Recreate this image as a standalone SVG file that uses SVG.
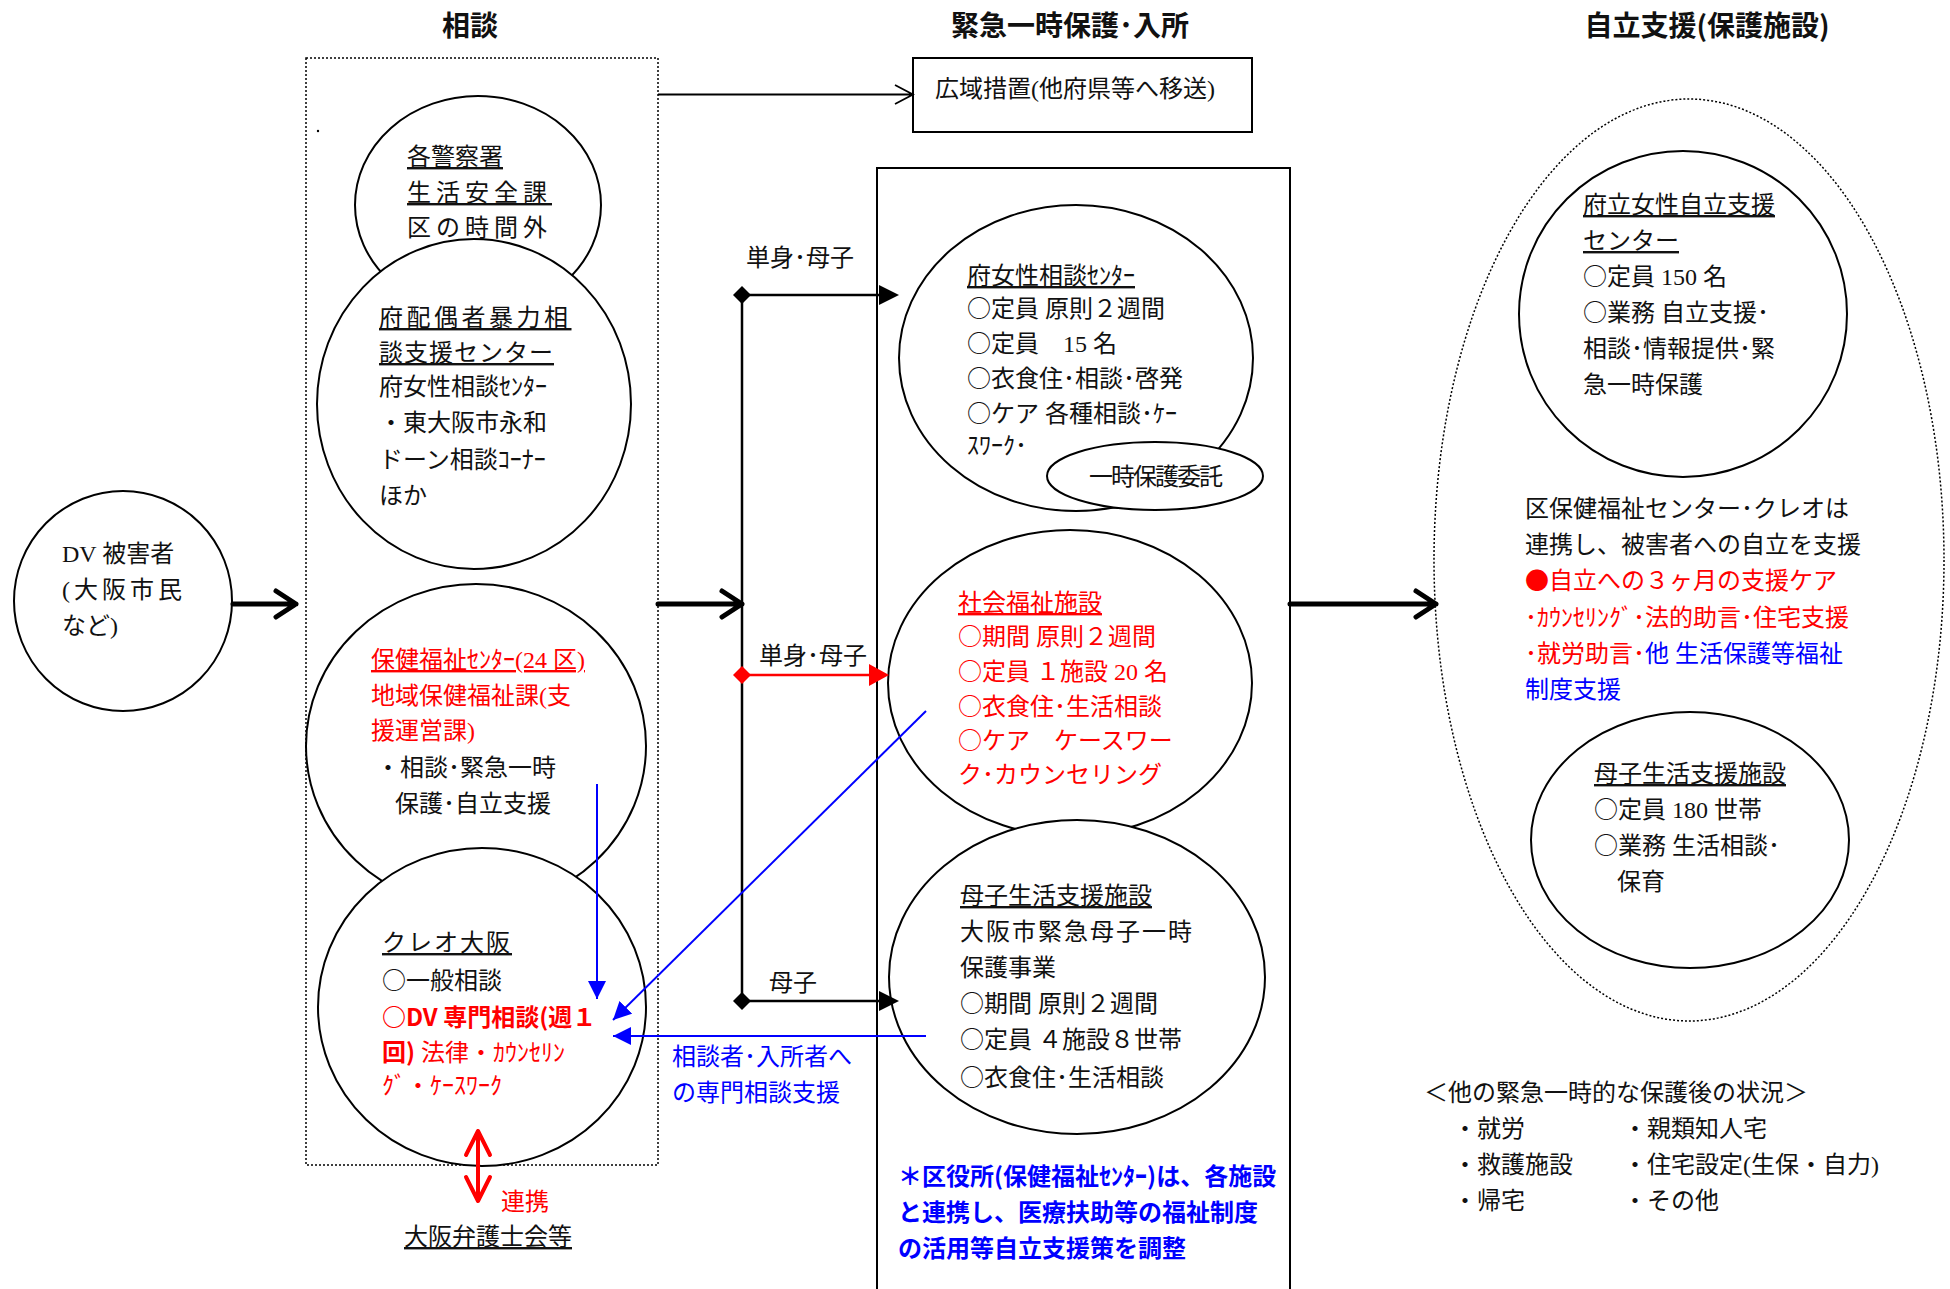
<svg xmlns="http://www.w3.org/2000/svg" width="1950" height="1289" viewBox="0 0 1950 1289">
<defs>
<style>
text{font-family:"Liberation Serif","Noto Sans CJK JP",serif;font-size:24px;fill:#111}
.t{font-family:"Noto Sans CJK JP",sans-serif;font-size:28px;font-weight:bold;text-anchor:middle}
.c{font-family:"Noto Sans CJK JP",sans-serif}
.g{font-family:"Noto Sans CJK JP",sans-serif}
.u{text-decoration:underline}
.r{fill:#ff0000}
.b{fill:#0000ff}
.bd{font-weight:bold}
.node{fill:#fff;stroke:#000;stroke-width:2}
.thick{stroke:#000;stroke-width:5;fill:none;stroke-linecap:round;stroke-linejoin:round}
.blue{stroke:#0000ff;stroke-width:2;fill:none}
</style>
<marker id="bh" viewBox="0 0 10 10" refX="10" refY="5" markerWidth="18" markerHeight="18" markerUnits="userSpaceOnUse" orient="auto"><path d="M0,0 L10,5 L0,10 Z" fill="#0000ff"/></marker>
</defs>
<rect width="1950" height="1289" fill="#fff"/>

<g id="titles">
<text class="t" x="470" y="36">相談</text>
<text class="t" x="1070" y="36">緊急一時保護･入所</text>
<text class="t" x="1707" y="36">自立支援(保護施設)</text>
</g>

<g id="consult-area">
<rect x="306" y="58" width="352" height="1107" fill="none" stroke="#000" stroke-width="1.5" stroke-dasharray="2,2"/>
<circle cx="318" cy="131" r="1.2" fill="#000"/>
</g>

<g id="dv-victim">
<ellipse class="node" cx="123" cy="601" rx="109" ry="110"/>
<text x="62" y="562">DV 被害者</text>
<text x="62" y="598" letter-spacing="4">(大阪市民</text>
<text x="62" y="634">など)</text>
</g>

<g id="police">
<ellipse class="node" cx="478" cy="205" rx="123" ry="109"/>
<text class="u" x="407" y="165">各警察署</text>
<text class="u" x="407" y="201" letter-spacing="5">生活安全課</text>
<text x="407" y="236" letter-spacing="5">区の時間外</text>
</g>

<g id="pref-dv-center">
<ellipse class="node" cx="474" cy="404" rx="157" ry="165"/>
<text class="u" x="379" y="326" letter-spacing="3.5">府配偶者暴力相</text>
<text class="u" x="379" y="361" letter-spacing="1">談支援センター</text>
<text x="379" y="395">府女性相談ｾﾝﾀｰ</text>
<text x="379" y="431">・東大阪市永和</text>
<text x="379" y="468">ドーン相談ｺｰﾅｰ</text>
<text x="379" y="504">ほか</text>
</g>

<g id="health-welfare">
<ellipse class="node" cx="476" cy="746" rx="170" ry="162"/>
<text class="u r" x="371" y="668">保健福祉ｾﾝﾀｰ(24 区)</text>
<text class="r" x="371" y="704">地域保健福祉課(支</text>
<text class="r" x="371" y="739">援運営課)</text>
<text x="376" y="776">・相談･緊急一時</text>
<text x="395" y="812">保護･自立支援</text>
</g>

<g id="creo-osaka">
<ellipse class="node" cx="482" cy="1007" rx="164" ry="159"/>
<text class="u" x="382" y="951" letter-spacing="2">クレオ大阪</text>
<text x="382" y="989"><tspan class="c">○</tspan>一般相談</text>
<text class="r bd g" x="382" y="1026">○DV 専門相談(週１</text>
<text class="r" x="382" y="1061"><tspan class="bd g">回)</tspan> 法律・ｶｳﾝｾﾘﾝ</text>
<text class="r" x="382" y="1094" font-size="20">ｸﾞ・ｹｰｽﾜｰｸ</text>
</g>

<g id="bar-assoc">
<text class="r" x="501" y="1210">連携</text>
<text class="u" x="404" y="1245">大阪弁護士会等</text>
</g>

<g id="wide-area">
<rect x="913" y="58" width="339" height="74" fill="#fff" stroke="#000" stroke-width="2"/>
<text x="935" y="97">広域措置(他府県等へ移送)</text>
</g>

<g id="shelter-area">
<rect x="877" y="168" width="413" height="1140" fill="none" stroke="#000" stroke-width="2"/>
</g>

<g id="pref-women-center">
<ellipse class="node" cx="1076" cy="358" rx="177" ry="153"/>
<text class="u" x="967" y="284">府女性相談ｾﾝﾀｰ</text>
<text x="967" y="317"><tspan class="c">○</tspan>定員 原則２週間</text>
<text x="967" y="352"><tspan class="c">○</tspan>定員　15 名</text>
<text x="967" y="387"><tspan class="c">○</tspan>衣食住･相談･啓発</text>
<text x="967" y="422"><tspan class="c">○</tspan>ケア 各種相談･ｹｰ</text>
<text x="967" y="454" font-size="19">ｽﾜｰｸ･</text>
</g>

<g id="temp-entrust">
<ellipse class="node" cx="1155" cy="476" rx="108" ry="34"/>
<text x="1155" y="485" text-anchor="middle" letter-spacing="-2">一時保護委託</text>
</g>

<g id="social-welfare">
<ellipse class="node" cx="1070" cy="683" rx="182" ry="153"/>
<text class="u r" x="958" y="611">社会福祉施設</text>
<text class="r" x="958" y="645"><tspan class="c">○</tspan>期間 原則２週間</text>
<text class="r" x="958" y="680"><tspan class="c">○</tspan>定員 １施設 20 名</text>
<text class="r" x="958" y="715"><tspan class="c">○</tspan>衣食住･生活相談</text>
<text class="r" x="958" y="749"><tspan class="c">○</tspan>ケア　ケースワー</text>
<text class="r" x="958" y="783">ク･カウンセリング</text>
</g>

<g id="mother-child-facility">
<ellipse class="node" cx="1077" cy="977" rx="188" ry="157"/>
<text class="u" x="960" y="904">母子生活支援施設</text>
<text x="960" y="940" letter-spacing="2">大阪市緊急母子一時</text>
<text x="960" y="976">保護事業</text>
<text x="960" y="1012"><tspan class="c">○</tspan>期間 原則２週間</text>
<text x="960" y="1048"><tspan class="c">○</tspan>定員 ４施設８世帯</text>
<text x="960" y="1086"><tspan class="c">○</tspan>衣食住･生活相談</text>
</g>

<g id="ward-note">
<text class="b bd g" x="898" y="1185">＊区役所(保健福祉ｾﾝﾀｰ)は、各施設</text>
<text class="b bd g" x="898" y="1221">と連携し、医療扶助等の福祉制度</text>
<text class="b bd g" x="898" y="1257">の活用等自立支援策を調整</text>
</g>

<g id="independence-area">
<ellipse cx="1689" cy="560" rx="255" ry="461" fill="none" stroke="#000" stroke-width="1.5" stroke-dasharray="2,2"/>
</g>

<g id="pref-independence-center">
<ellipse class="node" cx="1683" cy="314" rx="164" ry="163"/>
<text class="u" x="1583" y="213">府立女性自立支援</text>
<text class="u" x="1583" y="249">センター</text>
<text x="1583" y="285"><tspan class="c">○</tspan>定員 150 名</text>
<text x="1583" y="321"><tspan class="c">○</tspan>業務 自立支援･</text>
<text x="1583" y="357">相談･情報提供･緊</text>
<text x="1583" y="393">急一時保護</text>
</g>

<g id="support-note">
<text x="1525" y="517">区保健福祉センター･クレオは</text>
<text x="1525" y="553">連携し、被害者への自立を支援</text>
<text class="r" x="1525" y="589"><tspan class="c">●</tspan>自立への３ヶ月の支援ケア</text>
<text class="r" x="1525" y="626">･ｶｳﾝｾﾘﾝｸﾞ･法的助言･住宅支援</text>
<text x="1525" y="662"><tspan class="r">･就労助言･</tspan><tspan class="b">他 生活保護等福祉</tspan></text>
<text class="b" x="1525" y="698">制度支援</text>
</g>

<g id="mother-child-support">
<ellipse class="node" cx="1690" cy="840" rx="159" ry="128"/>
<text class="u" x="1594" y="782">母子生活支援施設</text>
<text x="1594" y="818"><tspan class="c">○</tspan>定員 180 世帯</text>
<text x="1594" y="854"><tspan class="c">○</tspan>業務 生活相談･</text>
<text x="1617" y="890">保育</text>
</g>

<g id="other-outcomes">
<text x="1424" y="1101">＜他の緊急一時的な保護後の状況＞</text>
<text x="1453" y="1137">・就労</text>
<text x="1623" y="1137">・親類知人宅</text>
<text x="1453" y="1173">・救護施設</text>
<text x="1623" y="1173">・住宅設定(生保・自力)</text>
<text x="1453" y="1209">・帰宅</text>
<text x="1623" y="1209">・その他</text>
</g>

<g id="connectors">
<path d="M658,94.5 L913,94.5 M895,85 L913,94.5 L895,104" fill="none" stroke="#000" stroke-width="1.8"/>
<path class="thick" d="M233,604 L296,604 M276,591 L296,604 L276,617"/>
<path class="thick" d="M658,604 L742,604 M722,591 L742,604 L722,617"/>
<path class="thick" d="M1290,604 L1436,604 M1416,591 L1436,604 L1416,617"/>
<line x1="742" y1="295" x2="742" y2="1001" stroke="#000" stroke-width="2.5"/>
<path d="M742,295 L880,295" stroke="#000" stroke-width="2.5"/>
<path d="M733,295 L742,286 L751,295 L742,304 Z" fill="#000"/>
<path d="M879,285 L899,295 L879,305 Z" fill="#000"/>
<text x="746" y="266">単身･母子</text>
<path d="M742,675 L870,675" stroke="#ff0000" stroke-width="2.5"/>
<path d="M733,675 L742,666 L751,675 L742,684 Z" fill="#ff0000"/>
<path d="M869,664 L889,675 L869,686 Z" fill="#ff0000"/>
<text x="759" y="664">単身･母子</text>
<path d="M742,1001 L880,1001" stroke="#000" stroke-width="2.5"/>
<path d="M733,1001 L742,992 L751,1001 L742,1010 Z" fill="#000"/>
<path d="M879,991 L899,1001 L879,1011 Z" fill="#000"/>
<text x="769" y="991">母子</text>
<line class="blue" x1="597" y1="784" x2="597" y2="999" marker-end="url(#bh)"/>
<line class="blue" x1="926" y1="711" x2="613" y2="1020" marker-end="url(#bh)"/>
<line class="blue" x1="926" y1="1036" x2="613" y2="1036" marker-end="url(#bh)"/>
<text class="b" x="672" y="1065">相談者･入所者へ</text>
<text class="b" x="672" y="1101">の専門相談支援</text>
<path d="M478,1131 L478,1201 M466,1155 L478,1131 L490,1155 M466,1177 L478,1201 L490,1177" fill="none" stroke="#ff0000" stroke-width="4" stroke-linecap="round" stroke-linejoin="round"/>
</g>
</svg>
